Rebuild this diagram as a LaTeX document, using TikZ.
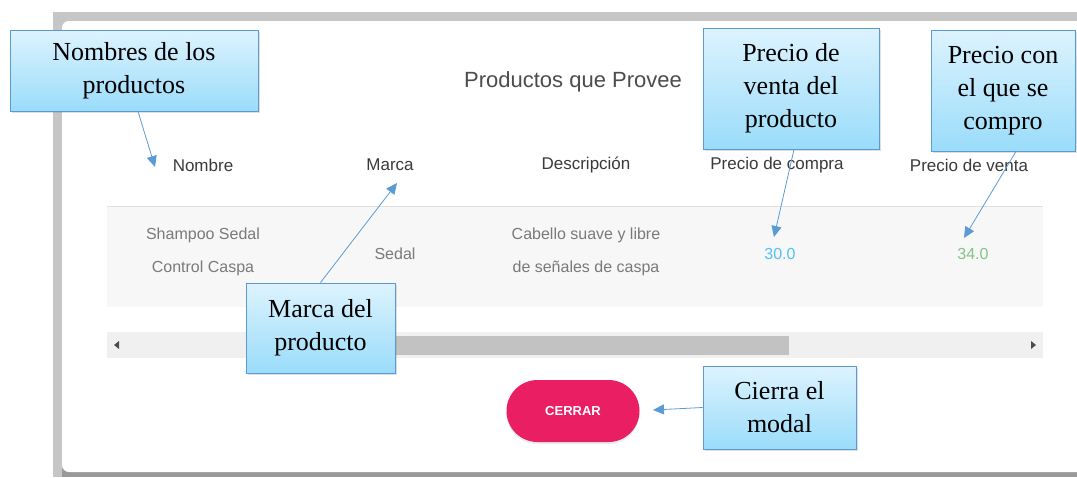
\documentclass[tikz,border=0pt]{standalone}
\usepackage{fontspec}
\setmainfont{Liberation Serif}
\newfontfamily\uifont{Liberation Sans}
\usepackage{xcolor}
\usepackage{tikz}
\usetikzlibrary{positioning,shadows,arrows.meta}

\definecolor{calloutedge}{HTML}{5B9BD5}
\definecolor{callouttop}{HTML}{DDF3FE}
\definecolor{calloutbot}{HTML}{9ADCFA}
\definecolor{pinkbtn}{HTML}{E91E63}
\definecolor{priceblue}{HTML}{4FC3F7}
\definecolor{pricegreen}{HTML}{81C784}
\definecolor{headgray}{HTML}{3A3A3A}
\definecolor{cellgray}{HTML}{7A7A7A}
\definecolor{framegray}{HTML}{C6C6C6}
\definecolor{rowgray}{HTML}{F7F7F7}

\begin{document}
\begin{tikzpicture}[x=1pt, y=-1pt,
  callout/.style={rectangle, draw=calloutedge, line width=0.9pt, top color=callouttop, bottom color=calloutbot,
    drop shadow={opacity=0.25, shadow xshift=2pt, shadow yshift=-2pt}, align=center, inner sep=0pt,
    font=\fontsize{26}{33}\selectfont},
  header/.style={font=\uifont\fontsize{17}{20}\selectfont, text=headgray},
  cell/.style={font=\uifont\fontsize{16}{33}\selectfont, text=cellgray, align=center},
  pointer/.style={draw=calloutedge, line width=0.8pt, -{Triangle[width=10pt,length=11pt]}}]
\useasboundingbox (0,0) rectangle (1077,477);
\clip (0,0) rectangle (1077,477);
\fill[white] (0,0) rectangle (1077,477);

% modal window
\fill[framegray] (53,12) rectangle (1077,477);
\fill[black!40] (62,468) rectangle (1077,477);
\fill[white, rounded corners=7pt] (62,21) rectangle (1095,472);

\node[font=\uifont\fontsize{22}{26}\selectfont, text=black!70] (titulo) at (573,82) {Productos que Provee};

\node[header] (hdrnombre) at (203,165) {Nombre};
\node[header] (hdrmarca) at (390,165) {Marca};
\node[header] (hdrdesc) at (586,165) {Descripción};
\node[header] (hdrcompra) at (777,165) {Precio de compra};
\node[header] (hdrventa) at (969,165) {Precio de venta};

% table row
\fill[rowgray] (107,206) rectangle (1043,307);
\draw[black!12] (107,206) -- (1043,206);
\node[cell] (nombre) at (203,252) {Shampoo Sedal\\Control Caspa};
\node[cell] (marca) at (395,254) {Sedal};
\node[cell] (desc) at (586,252) {Cabello suave y libre\\de señales de caspa};
\node[cell, text=priceblue] (compra) at (780,254) {30.0};
\node[cell, text=pricegreen] (venta) at (973,254) {34.0};

% scrollbar
\fill[black!6] (107,332) rectangle (1043,358);
\fill[black!24] (300,336) rectangle (789,355);
\fill[black!70] (114,345) -- (119,341) -- (119,349) -- cycle;
\fill[black!70] (1036,345) -- (1031,341) -- (1031,349) -- cycle;

% button
\node[fill=pinkbtn, rounded corners=31pt, minimum width=133pt, minimum height=62pt, text=white,
  font=\uifont\bfseries\fontsize{13}{15}\selectfont, drop shadow={opacity=0.15, shadow xshift=0pt, shadow yshift=-2pt}]
  (cerrar) at (573,411) {CERRAR};

% callouts
\node[callout, minimum width=248pt, minimum height=81pt] (notenombre) at (134,70.5) {Nombres de los\\productos};
\node[callout, minimum width=176pt, minimum height=121pt] (noteventa) at (791,88.5) {Precio de\\venta del\\producto};
\node[callout, minimum width=144pt, minimum height=121pt] (notecompra) at (1003,90.5) {Precio con\\el que se\\compro};
\node[callout, minimum width=149pt, minimum height=90pt] (notemarca) at (320.5,328) {Marca del\\producto};
\node[callout, minimum width=153pt, minimum height=83pt] (notecerrar) at (779.5,407.5) {Cierra el\\modal};

\coordinate (tipnombre) at (155,167);
\coordinate (tipmarca) at (397,183);
\coordinate (tipventa) at (774,237);
\coordinate (tipcompra) at (964,238);
\coordinate (tipcerrar) at (653,410);

\draw[pointer] ([xshift=4pt]notenombre.south) -- (tipnombre);
\draw[pointer] (notemarca.north) -- (tipmarca);
\draw[pointer] ([xshift=3pt]noteventa.south) -- (tipventa);
\draw[pointer] ([xshift=13pt]notecompra.south) -- (tipcompra);
\draw[pointer] (notecerrar.west) -- (tipcerrar);

\end{tikzpicture}
\end{document}
